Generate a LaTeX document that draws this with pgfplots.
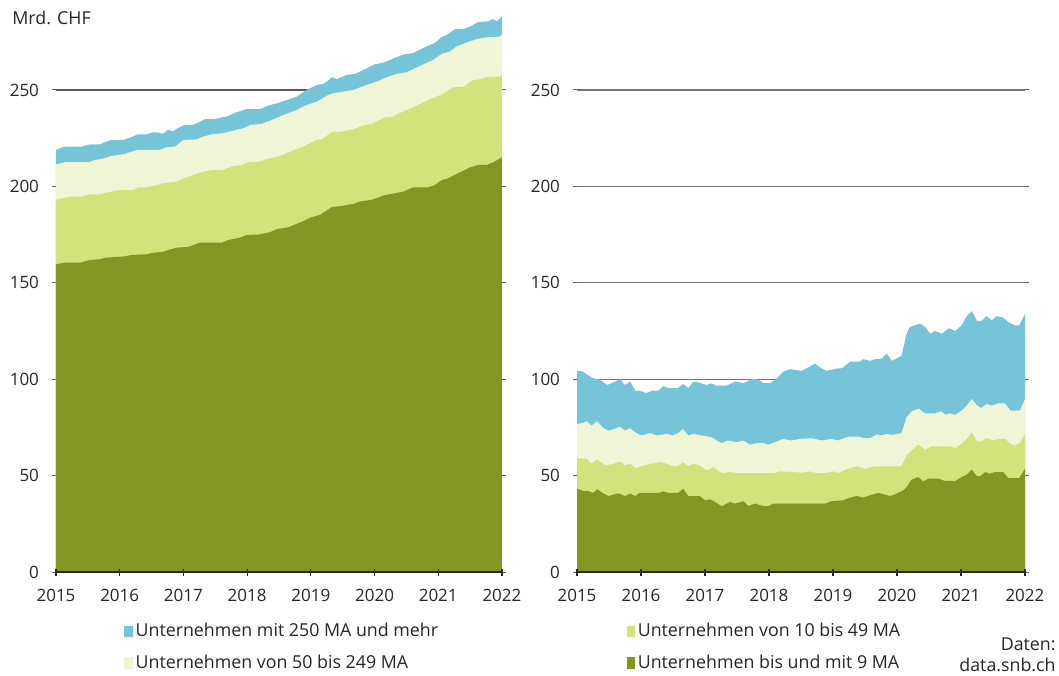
\documentclass[border=0pt]{standalone}
\usepackage{fontspec}
\setmainfont{Open Sans}
\usepackage{pgfplots}
\pgfplotsset{compat=1.18}
\definecolor{cBlue}{RGB}{118,196,216}
\definecolor{cPale}{RGB}{240,245,213}
\definecolor{cLight}{RGB}{210,227,124}
\definecolor{cDark}{RGB}{130,150,34}
\newcommand{\tfont}{\fontsize{8.5}{10}\selectfont}
\newcommand{\lfont}{\fontsize{8.9}{10.5}\selectfont}
\pgfplotsset{
  common/.style={scale only axis, height=279.6pt, xmin=2015, xmax=2022, ymin=0, ymax=290,
    enlargelimits=false, /pgf/number format/assume math mode=true,
    ticklabel style={font=\tfont, text=black!85}},
  bgax/.style={common, axis line style={draw=none}, xtick=\empty,
    ytick={0,50,...,250}, ymajorgrids, grid style={line width=0.6pt, color=black!65},
    ytick pos=both, yticklabel pos=left, tick align=outside, major tick length=2pt,
    ytick style={black!60, line width=0.5pt},
    yticklabel style={xshift=-3pt}},
  fgax/.style={common, axis x line*=bottom, axis y line=none, ytick=\empty,
    xtick={2015,...,2022}, minor x tick num=1, scaled x ticks=false,
    xticklabel style={/pgf/number format/1000 sep={}, yshift=-3.5pt},
    x axis line style={line width=0.7pt, black!85},
    tick align=center, major tick length=3.5pt, minor tick length=2pt,
    xtick style={black!85, line width=0.6pt}},
}
\begin{document}
\begin{tikzpicture}[font=\tfont]
\useasboundingbox (0,0) rectangle (529.5pt,337.5pt);
% ---------- left panel ----------
\begin{axis}[bgax, at={(28pt,51.5pt)}, anchor=south west, width=223pt]
\addplot[fill=cBlue, draw=none] coordinates {
(2015.000,219) (2015.141,220.6) (2015.403,220.6) (2015.534,221.8) (2015.691,221.8) (2015.769,223)
(2015.874,224) (2016.052,224) (2016.188,225.6) (2016.287,227) (2016.424,227) (2016.522,228)
(2016.601,227.9) (2016.675,227.2) (2016.758,229.4) (2016.836,228.4) (2016.894,229.9) (2017.009,231.8)
(2017.150,231.8) (2017.339,234.8) (2017.496,234.8) (2017.601,235.8) (2017.679,236.2) (2017.836,238.4)
(2017.993,240.1) (2018.202,240.1) (2018.359,242.2) (2018.464,243) (2018.673,245.3) (2018.778,246.5)
(2018.935,250) (2019.092,252.6) (2019.195,253.1) (2019.269,254.7) (2019.327,256.6) (2019.406,255.6)
(2019.563,257.8) (2019.693,258.3) (2019.876,261.2) (2020.007,263.3) (2020.137,264.2) (2020.347,267)
(2020.478,268.6) (2020.608,269.1) (2020.818,272.6) (2020.948,274.4) (2021.054,277.4) (2021.132,278.5)
(2021.262,281.5) (2021.393,281.5) (2021.498,282.9) (2021.628,285.2) (2021.785,285.6) (2021.854,286.8)
(2021.926,285.6) (2022.000,288.2)} \closedcycle;
\addplot[fill=cPale, draw=none] coordinates {
(2015.000,211.4) (2015.141,212.5) (2015.507,212.5) (2015.612,213.7) (2015.738,214.4) (2015.874,215.8)
(2016.083,216.8) (2016.267,218.9) (2016.632,218.9) (2016.737,220.3) (2016.868,220.6) (2016.998,224)
(2017.208,224.4) (2017.312,225.8) (2017.444,227) (2017.626,227.6) (2017.783,228.9) (2017.940,230.1)
(2018.045,231.8) (2018.228,232.4) (2018.359,234) (2018.568,237) (2018.778,239.6) (2018.935,242.2)
(2019.092,243.9) (2019.274,247.4) (2019.352,248.3) (2019.509,249.1) (2019.666,250) (2019.876,252.6)
(2020.033,254.3) (2020.190,256.6) (2020.347,258.3) (2020.504,259.2) (2020.713,262.4) (2020.922,265.6)
(2021.054,268.7) (2021.184,269.9) (2021.289,272.6) (2021.498,275.2) (2021.603,276.3) (2021.733,277.2)
(2021.969,277.7) (2022.000,279)} \closedcycle;
\addplot[fill=cLight, draw=none] coordinates {
(2015.000,193) (2015.220,194.7) (2015.403,194.7) (2015.534,195.9) (2015.691,195.9) (2015.874,197.3)
(2016.004,198.1) (2016.213,198.1) (2016.292,199.5) (2016.424,199.5) (2016.581,200.7) (2016.684,201.6)
(2016.894,202.5) (2017.051,204.7) (2017.260,207.1) (2017.417,208.3) (2017.626,208.5) (2017.758,210.3)
(2017.915,211.1) (2018.018,212.5) (2018.202,212.8) (2018.359,214.6) (2018.568,216.3) (2018.673,218)
(2018.881,220.6) (2019.092,224.1) (2019.170,224.4) (2019.327,228) (2019.484,228.4) (2019.666,229.6)
(2019.850,231.8) (2019.955,232.4) (2020.164,235.8) (2020.294,236.2) (2020.451,238.9) (2020.583,240.6)
(2020.686,242.2) (2020.843,244.8) (2020.975,246.5) (2021.054,247.7) (2021.132,249.1) (2021.236,251.4)
(2021.393,251.4) (2021.524,254.8) (2021.655,255.6) (2021.760,256.6) (2021.969,257) (2022.000,257.8)} \closedcycle;
\addplot[fill=cDark, draw=none] coordinates {
(2015.000,159.6) (2015.141,160.4) (2015.377,160.4) (2015.534,161.8) (2015.691,162.2) (2015.769,163)
(2016.056,163.6) (2016.188,164.4) (2016.424,164.8) (2016.527,165.6) (2016.684,166.1) (2016.763,167)
(2016.894,168.2) (2017.077,168.6) (2017.260,170.8) (2017.601,170.8) (2017.704,172.2) (2017.888,173.4)
(2017.993,174.8) (2018.175,175) (2018.359,176.2) (2018.464,177.8) (2018.646,178.8) (2018.830,181.2)
(2019.013,184) (2019.143,185.2) (2019.327,189.2) (2019.484,189.8) (2019.666,190.9) (2019.771,192.1)
(2019.955,193) (2020.164,195.5) (2020.321,196.4) (2020.451,197.3) (2020.608,199.5) (2020.843,199.5)
(2020.948,200.7) (2021.054,203.3) (2021.132,203.8) (2021.289,206.4) (2021.498,209.8) (2021.628,211.1)
(2021.760,211.1) (2021.864,212.5) (2022.000,215.1)} \closedcycle;
\end{axis}
\begin{axis}[fgax, at={(28pt,51.5pt)}, anchor=south west, width=223pt,
  legend style={draw=none, fill=none, inner sep=0pt, at={(axis description cs:0.1525,-0.087)},
    anchor=north west, legend columns=2, row sep=5.5pt, column sep=0pt,
    nodes={inner xsep=1.5pt, inner ysep=1pt, text=black!85}, font=\lfont},
  legend cell align=left,
  legend image code/.code={\fill[#1] (0.3pt,-2.6pt) rectangle (4pt,2.6pt);}]
\addlegendimage{cBlue}
\addlegendentry{\makebox[244pt][l]{Unternehmen mit 250 MA und mehr}}
\addlegendimage{cLight}
\addlegendentry{Unternehmen von 10 bis 49 MA}
\addlegendimage{cPale}
\addlegendentry{\makebox[244pt][l]{Unternehmen von 50 bis 249 MA}}
\addlegendimage{cDark}
\addlegendentry{Unternehmen bis und mit 9 MA}
\end{axis}
% ---------- right panel ----------
\begin{axis}[bgax, at={(288.5pt,51.5pt)}, anchor=south west, width=224pt, grid style={line width=0.6pt, color=black!55}]
\addplot[fill=cBlue, draw=none] coordinates {
(2015.00,104.3) (2015.09,104) (2015.15,102.6) (2015.25,100.5) (2015.36,99.7) (2015.47,97)
(2015.57,98.3) (2015.67,100) (2015.75,97) (2015.83,98.8) (2015.91,94) (2015.98,94)
(2016.08,92.8) (2016.17,94) (2016.27,94) (2016.35,96.4) (2016.43,95.4) (2016.58,95.4)
(2016.66,97.5) (2016.74,95.4) (2016.82,98.8) (2016.92,98.1) (2017.02,97) (2017.10,97.8)
(2017.18,96.6) (2017.34,96.6) (2017.47,98.8) (2017.60,98) (2017.75,100.2) (2017.83,99.8)
(2017.91,98) (2018.02,98) (2018.12,100.4) (2018.22,103.8) (2018.33,105.2) (2018.51,104.3)
(2018.72,108.1) (2018.80,106) (2018.90,104.3) (2019.06,105.5) (2019.14,105.7) (2019.27,109.1)
(2019.42,109.1) (2019.47,110.4) (2019.58,109.5) (2019.66,110.4) (2019.76,110.7) (2019.84,113.3)
(2019.92,109.5) (2020.07,112.1) (2020.15,123.6) (2020.20,127.1) (2020.36,128.8) (2020.44,127.1)
(2020.52,123.6) (2020.59,125) (2020.70,123.6) (2020.81,126.4) (2020.91,125) (2021.01,127.9)
(2021.09,132.7) (2021.17,135.3) (2021.25,130.2) (2021.32,130.2) (2021.40,132.7) (2021.48,130.5)
(2021.56,132.7) (2021.66,131.9) (2021.74,129.6) (2021.84,127.9) (2021.91,127.9) (2022.00,133.9)} \closedcycle;
\addplot[fill=cPale, draw=none] coordinates {
(2015.00,76.8) (2015.07,77.1) (2015.15,78.2) (2015.23,75.9) (2015.31,78.2) (2015.41,74.7)
(2015.49,73.3) (2015.59,74.2) (2015.67,75.4) (2015.75,73.3) (2015.83,74.5) (2015.93,72)
(2016.01,70.8) (2016.14,72) (2016.25,70.8) (2016.40,71.6) (2016.50,70.8) (2016.58,72)
(2016.66,74.2) (2016.74,70.8) (2016.82,71.6) (2016.95,70.8) (2017.10,69.9) (2017.26,66.8)
(2017.36,68.2) (2017.50,67.3) (2017.60,68.2) (2017.70,66) (2017.81,66.8) (2017.91,66.8)
(2017.99,66) (2018.09,67.3) (2018.22,69) (2018.35,68.2) (2018.48,69) (2018.67,69.4)
(2018.82,68.2) (2018.98,69) (2019.08,68.2) (2019.24,70.2) (2019.40,70.2) (2019.50,69.4)
(2019.58,69.4) (2019.68,71.3) (2019.76,70.8) (2019.84,71.6) (2019.92,71.1) (2020.07,72)
(2020.15,80.2) (2020.23,83.3) (2020.34,84.7) (2020.44,82.3) (2020.59,82.3) (2020.69,83.3)
(2020.76,81.6) (2020.83,82.3) (2020.91,81.5) (2021.01,83.7) (2021.09,86.3) (2021.17,89.7)
(2021.25,86.3) (2021.32,85.1) (2021.40,87.1) (2021.48,86.3) (2021.58,87.4) (2021.69,87.4)
(2021.77,83.7) (2021.92,83.7) (2022.00,89.7)} \closedcycle;
\addplot[fill=cLight, draw=none] coordinates {
(2015.00,59) (2015.15,58.7) (2015.23,56.1) (2015.31,58.4) (2015.44,55.3) (2015.57,56.1)
(2015.67,57.3) (2015.75,55.3) (2015.83,56.1) (2015.92,53.9) (2016.01,54.9) (2016.14,56.1)
(2016.32,57) (2016.50,54.9) (2016.58,54.9) (2016.66,57) (2016.74,54.9) (2016.82,56.1)
(2016.91,55.3) (2017.03,52.7) (2017.13,54.4) (2017.26,51.3) (2017.39,51.8) (2017.50,51.3)
(2018.07,51.3) (2018.17,52.2) (2018.54,51.5) (2018.61,52.2) (2018.75,51.3) (2018.90,51.3)
(2019.00,52.2) (2019.08,51.3) (2019.24,53.6) (2019.37,54.8) (2019.50,53.6) (2019.66,54.8)
(2020.07,54.8) (2020.15,60.4) (2020.23,63) (2020.33,66.1) (2020.44,63.4) (2020.54,65.1)
(2020.85,65.1) (2020.91,64.2) (2021.01,66.5) (2021.09,69) (2021.17,72.5) (2021.25,67.8)
(2021.32,67.8) (2021.40,69.4) (2021.50,68.2) (2021.58,69) (2021.69,69) (2021.77,66.5)
(2021.84,65.6) (2021.92,66.8) (2022.00,71.6)} \closedcycle;
\addplot[fill=cDark, draw=none] coordinates {
(2015.00,43.2) (2015.10,42) (2015.18,42) (2015.25,41) (2015.32,42.9) (2015.40,41)
(2015.49,39.4) (2015.62,40.6) (2015.67,40.6) (2015.75,39.4) (2015.83,40.6) (2015.91,39.4)
(2015.98,41) (2016.27,41) (2016.35,41.8) (2016.43,41) (2016.58,41) (2016.66,43.2)
(2016.74,39.3) (2016.92,39.3) (2017.00,37.2) (2017.08,37.7) (2017.16,36.3) (2017.26,34.1)
(2017.39,36.3) (2017.47,35.5) (2017.60,36.7) (2017.68,34.2) (2017.78,35.5) (2017.91,34.2)
(2017.99,34.2) (2018.07,35.5) (2018.88,35.5) (2018.98,36.7) (2019.16,37.2) (2019.27,38.6)
(2019.37,39.4) (2019.47,38.6) (2019.58,39.8) (2019.71,41) (2019.79,40.3) (2019.89,39.4)
(2019.97,40.3) (2020.10,42.4) (2020.15,44.1) (2020.23,48) (2020.33,49.2) (2020.41,47)
(2020.49,48.4) (2020.65,48.4) (2020.75,47.2) (2020.91,47.2) (2021.01,49.2) (2021.09,50.5)
(2021.17,53.1) (2021.25,49.7) (2021.30,49.7) (2021.38,51.8) (2021.45,51) (2021.53,51.8)
(2021.66,51.8) (2021.74,48.7) (2021.91,48.7) (2022.00,53.6)} \closedcycle;
\end{axis}
\begin{axis}[fgax, at={(288.5pt,51.5pt)}, anchor=south west, width=224pt]
\end{axis}
\node[anchor=west, inner sep=0pt, text=black!85, font=\lfont] at (6pt,328.5pt) {Mrd. CHF};
\node[anchor=east, align=right, inner sep=0pt, text=black!85, font=\lfont] at (528pt,10pt) {Daten:\\data.snb.ch};
\end{tikzpicture}
\end{document}
